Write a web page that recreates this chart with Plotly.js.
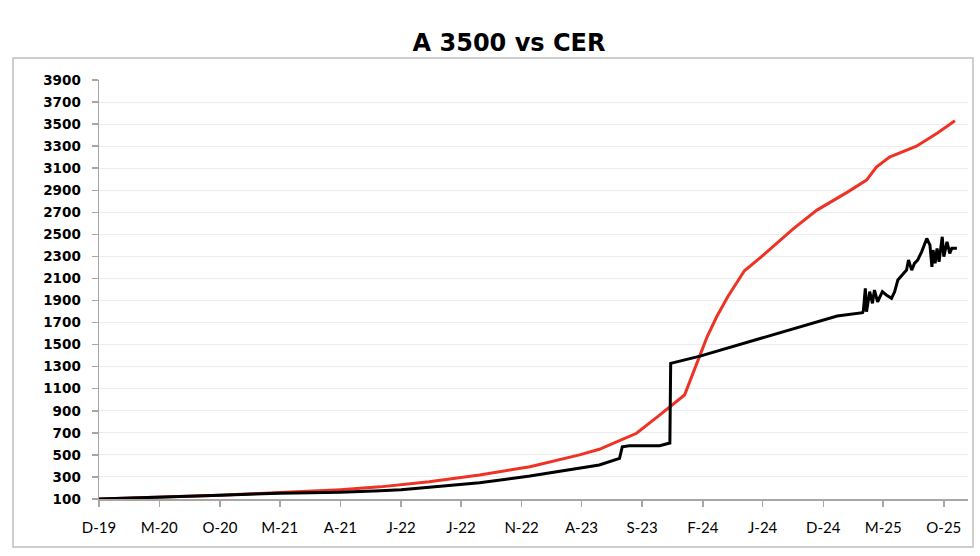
<!DOCTYPE html>
<html>
<head>
<meta charset="utf-8">
<script src="https://cdn.plot.ly/plotly-3.0.1.min.js"></script>
<style>
  html, body { margin: 0; padding: 0; background: #fff; }
  #chart { width: 980px; height: 556px; }
</style>
</head>
<body>
<div id="chart"></div>
<script>
// CER (red), rebased Dec-19 = 100
var cerDates = ["2019-12-01","2020-05-02","2020-10-01","2021-03-01","2021-08-01","2021-11-09",
  "2022-03-13","2022-07-18","2022-11-22","2023-03-27","2023-05-16","2023-06-11","2023-08-18",
  "2023-10-15","2023-12-17","2024-01-17","2024-02-12","2024-03-07","2024-04-04","2024-05-16",
  "2024-06-23","2024-09-16","2024-11-15","2025-01-31","2025-03-20","2025-04-14","2025-05-17",
  "2025-07-24","2025-09-14","2025-10-29"];
var cerValues = [100,115,135,158,185,210,
  257,318,393,500,551,590,696,
  861,1043,1330,1571,1753,1934,2170,
  2282,2550,2720,2883,2992,3110,3200,
  3300,3418,3530];

// A 3500 (black), rebased Dec-19 = 100
var a3500Dates = ["2019-12-01","2020-05-02","2020-10-01","2021-03-01","2021-08-01","2021-11-09",
  "2022-01-01","2022-03-13","2022-07-18","2022-11-22","2023-03-27","2023-05-16","2023-07-06",
  "2023-07-13","2023-07-31","2023-10-15","2023-11-10","2023-11-12","2024-01-25","2024-10-03",
  "2025-01-05","2025-03-10","2025-03-12","2025-03-17","2025-03-20","2025-03-28","2025-04-04",
  "2025-04-09","2025-04-17","2025-04-29","2025-05-09","2025-05-22","2025-05-30","2025-06-07",
  "2025-06-19","2025-06-29","2025-07-04","2025-07-12","2025-07-19","2025-07-27","2025-08-06",
  "2025-08-14","2025-08-19","2025-08-27","2025-09-01","2025-09-04","2025-09-09","2025-09-14",
  "2025-09-19","2025-09-27","2025-10-01","2025-10-09","2025-10-16","2025-10-21","2025-11-03"];
var a3500Values = [100,115,133,153,162,175,
  183,206,248,308,377,408,468,
  574,583,583,608,1330,1396,1657,
  1759,1790,1807,2010,1798,1980,1874,
  1995,1889,1980,1950,1920,1980,2086,
  2131,2176,2267,2176,2237,2267,2342,
  2418,2463,2403,2206,2358,2237,2373,
  2252,2478,2297,2433,2327,2373,2373];

// x tick labels, every 5 months
var tickDates = ["2019-12-01","2020-05-01","2020-10-01","2021-03-01","2021-08-01","2022-01-01",
  "2022-06-01","2022-11-01","2023-04-01","2023-09-01","2024-02-01","2024-07-01","2024-12-01",
  "2025-05-01","2025-10-01"];
var tickLabels = ["D-19","M-20","O-20","M-21","A-21","J-22","J-22","N-22","A-23","S-23",
  "F-24","J-24","D-24","M-25","O-25"];

var cerTrace = {
  x: cerDates,
  y: cerValues,
  type: "scatter",
  mode: "lines",
  name: "CER",
  line: { color: "#ee3224", width: 3 },
  hoverinfo: "x+y"
};

var a3500Trace = {
  x: a3500Dates,
  y: a3500Values,
  type: "scatter",
  mode: "lines",
  name: "A 3500",
  line: { color: "#000000", width: 3 },
  hoverinfo: "x+y"
};

var layout = {
  width: 980,
  height: 556,
  margin: { l: 99, r: 12, t: 80, b: 57 },
  paper_bgcolor: "#ffffff",
  plot_bgcolor: "#ffffff",
  showlegend: false,
  title: {
    text: "A 3500 vs CER",
    font: { family: "DejaVu Sans", size: 24, color: "#000", weight: "bold" },
    x: 509 / 980,
    xanchor: "center",
    y: 1 - 43 / 556,
    yanchor: "middle"
  },
  xaxis: {
    type: "date",
    range: ["2019-12-01", "2025-12-01"],
    tickmode: "array",
    tickvals: tickDates,
    ticktext: tickLabels,
    showgrid: false,
    zeroline: false,
    showline: true,
    linecolor: "#a6a6a6",
    linewidth: 1.5,
    ticks: "outside",
    ticklen: 6,
    tickcolor: "#a6a6a6",
    tickwidth: 1.5,
    ticklabelstandoff: 8,
    tickfont: { family: "Lato", size: 15, color: "#000" }
  },
  yaxis: {
    range: [100, 3900],
    tick0: 100,
    dtick: 200,
    showgrid: true,
    gridcolor: "#ececec",
    gridwidth: 1,
    zeroline: false,
    showline: true,
    linecolor: "#a6a6a6",
    linewidth: 1.5,
    ticks: "outside",
    ticklen: 6,
    tickcolor: "#a6a6a6",
    tickwidth: 1.5,
    ticklabelstandoff: 8,
    tickfont: { family: "DejaVu Sans", size: 13.5, color: "#000", weight: "bold" }
  },
  shapes: [
    {
      // outer chart frame
      type: "rect",
      xref: "paper", yref: "paper",
      x0: (13 - 99) / 869, x1: (973 - 99) / 869,
      y0: (499 - 547) / 419, y1: (499 - 58) / 419,
      line: { color: "#bfbfbf", width: 1.5 },
      fillcolor: "rgba(0,0,0,0)",
      layer: "below"
    }
  ]
};

Plotly.newPlot("chart", [cerTrace, a3500Trace], layout, { displayModeBar: false, staticPlot: true });
</script>
</body>
</html>
